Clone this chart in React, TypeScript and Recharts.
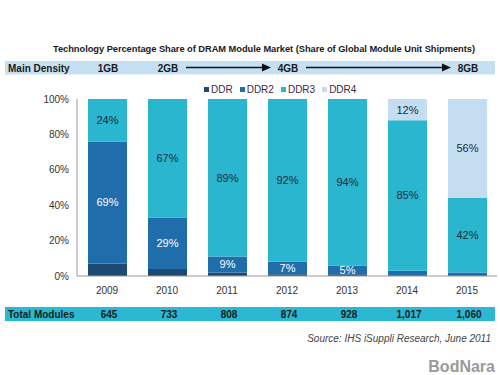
import React from 'react';
import { BarChart, Bar, XAxis, YAxis, Legend, LabelList } from 'recharts';

const categories = ['2009', '2010', '2011', '2012', '2013', '2014', '2015'];
const ddr = [7, 4, 2, 1, 1, 0, 0];
const ddr2 = [69, 29, 9, 7, 5, 3, 2];
const ddr3 = [24, 67, 89, 92, 94, 85, 42];
const ddr4 = [0, 0, 0, 0, 0, 12, 56];
const ddr2Labels = ['69%', '29%', '9%', '7%', '5%', '', ''];
const ddr3Labels = ['24%', '67%', '89%', '92%', '94%', '85%', '42%'];
const ddr4Labels = ['', '', '', '', '', '12%', '56%'];
const totalModules = ['645', '733', '808', '874', '928', '1,017', '1,060'];
const densityLabels = ['1GB', '2GB', '', '4GB', '', '', '8GB'];
const densityArrowFrom = [-1, -1, -1, 1, -1, -1, 3];
const yTicks = [0, 20, 40, 60, 80, 100];

const seriesNames = ['DDR', 'DDR2', 'DDR3', 'DDR4'];
const seriesColors = ['#1c4a72', '#1f6dab', '#2bb6d0', '#c4ddf0'];

const data = categories.map((c, i) => ({
  year: c,
  DDR: ddr[i],
  DDR2: ddr2[i],
  DDR3: ddr3[i],
  DDR4: ddr4[i],
  l2: ddr2Labels[i],
  l3: ddr3Labels[i],
  l4: ddr4Labels[i],
}));

const FONT = '"Liberation Sans", Arial, sans-serif';

function CategoryTick(props: any) {
  const { x, y, payload, width, visibleTicksCount } = props;
  const i = payload.index ?? props.index;
  let step = 60;
  if (payload.offset) step = payload.offset * 2;
  else if (width && visibleTicksCount) step = width / visibleTicksCount;
  const from = densityArrowFrom[i];
  const ax1 = from >= 0 ? x - (i - from) * step + 19 : 0;
  const ax2 = x - 16;
  return (
    <g fontFamily={FONT}>
      <text x={x} y={y + 10} textAnchor="middle" fontSize={10} fill="#333">
        {payload.value}
      </text>
      <text x={x + 2} y={318} textAnchor="middle" fontSize={10} fontWeight="bold" fill="#1a1a1a">
        {totalModules[i]}
      </text>
      {densityLabels[i] ? (
        <text x={x + 1} y={71.5} textAnchor="middle" fontSize={10} fontWeight="bold" fill="#1a1a1a">
          {densityLabels[i]}
        </text>
      ) : null}
      {from >= 0 ? (
        <g>
          <line x1={ax1} y1={67.5} x2={ax2 - 6} y2={67.5} stroke="#111" strokeWidth={1.6} />
          <polygon points={`${ax2},67.5 ${ax2 - 9},63.5 ${ax2 - 9},71.5`} fill="#111" />
        </g>
      ) : null}
    </g>
  );
}

function LegendContent() {
  return (
    <div style={{ display: 'flex', fontFamily: FONT, fontSize: 10, color: '#3a2a4a', whiteSpace: 'nowrap' }}>
      {seriesNames.map((n, k) => (
        <div key={n} style={{ display: 'flex', alignItems: 'center', marginRight: 7 }}>
          <span style={{ display: 'inline-block', width: 5, height: 5, background: seriesColors[k], marginRight: 2 }} />
          <span>{n}</span>
        </div>
      ))}
    </div>
  );
}

export default function App() {
  return (
    <div style={{ position: 'absolute', left: 0, top: 0, width: 500, height: 375, background: '#fff', overflow: 'hidden' }}>
      <svg width={500} height={375} style={{ position: 'absolute', left: 0, top: 0 }}>
        <text x={264} y={52} textAnchor="middle" fontFamily={FONT} fontSize={9.3} fontWeight="bold" fill="#1a1a1a" textLength={422} lengthAdjust="spacing">
          Technology Percentage Share of DRAM Module Market (Share of Global Module Unit Shipments)
        </text>
        <rect x={5} y={61} width={490} height={13.5} fill="#c6e0f3" />
        <text x={8} y={71.5} fontFamily={FONT} fontSize={10} fontWeight="bold" fill="#1a1a1a">Main Density</text>
        <rect x={5} y={307} width={490} height={14} fill="#2bb8d2" />
        <text x={8} y={318} fontFamily={FONT} fontSize={10} fontWeight="bold" fill="#1a1a1a">Total Modules</text>
        <text x={491} y={342} textAnchor="end" fontFamily={FONT} fontSize={10} fontStyle="italic" fill="#444">
          Source: IHS iSuppli Research, June 2011
        </text>
        <text x={495} y={372} textAnchor="end" fontFamily={FONT} fontSize={16} fontWeight="bold" fill="#9a9a9a">BodNara</text>
      </svg>
      <div style={{ position: 'absolute', left: 0, top: 0 }}>
        <BarChart width={500} height={375} data={data} margin={{ top: 99, right: 3, bottom: 69, left: 0 }} barSize={39}>
          <XAxis dataKey="year" tick={<CategoryTick />} tickLine={false} axisLine={{ stroke: '#999' }} height={30} interval={0} />
          <YAxis
            width={77}
            domain={[0, 100]}
            ticks={yTicks}
            tickFormatter={(v: number) => `${v}%`}
            tickLine={false}
            axisLine={{ stroke: '#999' }}
            tick={{ fontSize: 10, fill: '#333', fontFamily: FONT }}
          />
          <Legend layout="horizontal" verticalAlign="middle" align="center" content={<LegendContent />} wrapperStyle={{ top: 84, left: 204, width: 170, height: 12 }} />
          <Bar dataKey="DDR" stackId="a" fill={seriesColors[0]} isAnimationActive={false} />
          <Bar dataKey="DDR2" stackId="a" fill={seriesColors[1]} isAnimationActive={false}>
            <LabelList dataKey="l2" position="center" fill="#fff" fontSize={11} fontFamily={FONT} />
          </Bar>
          <Bar dataKey="DDR3" stackId="a" fill={seriesColors[2]} isAnimationActive={false}>
            <LabelList dataKey="l3" position="center" fill="#1a2a3a" fontSize={11} fontFamily={FONT} />
          </Bar>
          <Bar dataKey="DDR4" stackId="a" fill={seriesColors[3]} isAnimationActive={false}>
            <LabelList dataKey="l4" position="center" fill="#1a2a3a" fontSize={11} fontFamily={FONT} />
          </Bar>
        </BarChart>
      </div>
    </div>
  );
}
